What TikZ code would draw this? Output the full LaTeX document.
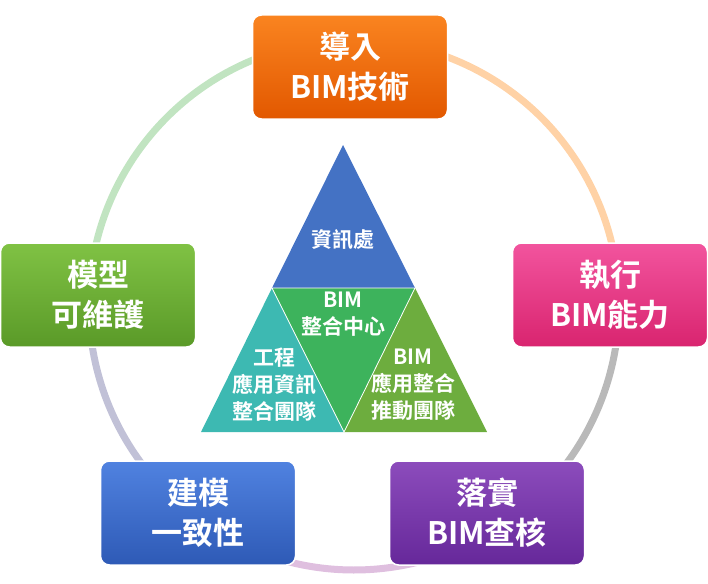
\documentclass[tikz,border=0pt]{standalone}
\usepackage{fontspec}
\setmainfont{Noto Sans CJK TC}[BoldFont={Noto Sans CJK TC Bold}]
\definecolor{triblue}{HTML}{4472C4}
\definecolor{triteal}{HTML}{3DB9B2}
\definecolor{trigreen}{HTML}{3DB35C}
\definecolor{triolive}{HTML}{6DAD3E}
\definecolor{introtop}{HTML}{FA8420}
\definecolor{introbot}{HTML}{E25800}
\definecolor{exectop}{HTML}{F2549E}
\definecolor{execbot}{HTML}{D9246F}
\definecolor{checktop}{HTML}{8C4CBC}
\definecolor{checkbot}{HTML}{66289A}
\definecolor{modeltop}{HTML}{5082E0}
\definecolor{modelbot}{HTML}{2E5AB6}
\definecolor{mainttop}{HTML}{80C244}
\definecolor{maintbot}{HTML}{5A9A28}
\tikzset{
  stagebox/.style={draw=white,line width=1.5pt,rounded corners=9pt,minimum width=195pt,
    minimum height=104pt,align=center,text=white,font=\fontsize{31}{40}\selectfont\bfseries},
  ringarc/.style={line width=7pt,line cap=round},
  tritext/.style={align=center,text=white,font=\fontsize{21}{27}\selectfont\bfseries}
}
\begin{document}
\begin{tikzpicture}[x=1pt,y=-1pt]
    \useasboundingbox (0,0) rectangle (708,583);
    % Ring segments (angles negated, y points down)
    \coordinate (hub) at (354,305);
    \draw[ringarc,orange!35] (hub) ++(-80:265) arc[start angle=-80,end angle=-8,radius=265];
    \draw[ringarc,gray!55] (hub) ++(4:265) arc[start angle=4,end angle=52,radius=265];
    \draw[ringarc,violet!25] (hub) ++(62:265) arc[start angle=62,end angle=120,radius=265];
    \draw[ringarc,blue!22!gray!40] (hub) ++(133:265) arc[start angle=133,end angle=174,radius=265];
    \draw[ringarc,green!40!gray!35] (hub) ++(-185:265) arc[start angle=-185,end angle=-100,radius=265];

    % Stages
    \node[stagebox,top color=introtop,bottom color=introbot] (intro) at (350,67) {導入\\BIM技術};
    \node[stagebox,top color=exectop,bottom color=execbot] (exec) at (610,295) {執行\\BIM能力};
    \node[stagebox,top color=checktop,bottom color=checkbot] (check) at (487,513) {落實\\BIM查核};
    \node[stagebox,top color=modeltop,bottom color=modelbot] (model) at (198,513) {建模\\一致性};
    \node[stagebox,top color=mainttop,bottom color=maintbot] (maint) at (98,295) {模型\\可維護};

    % Triangle
    \coordinate (apex) at (343,145);
    \coordinate (bl) at (201,432);
    \coordinate (br) at (487,432);
    \coordinate (ml) at (272,288);
    \coordinate (mr) at (415,288);
    \coordinate (mb) at (344,432);
    \fill[triblue] (apex) -- (ml) -- (mr) -- cycle;
    \fill[triteal] (ml) -- (bl) -- (mb) -- cycle;
    \fill[trigreen] (ml) -- (mr) -- (mb) -- cycle;
    \fill[triolive] (mr) -- (mb) -- (br) -- cycle;
    \draw[white,line width=0.8pt] (ml) -- (mr) -- (mb) -- cycle;

    \node[tritext] (office) at (343,240) {資訊處};
    \node[tritext] (center) at (343,314) {BIM\\整合中心};
    \node[tritext] (eng) at (274,385) {工程\\應用資訊\\整合團隊};
    \node[tritext] (push) at (413,385) {BIM\\應用整合\\推動團隊};
\end{tikzpicture}
\end{document}
